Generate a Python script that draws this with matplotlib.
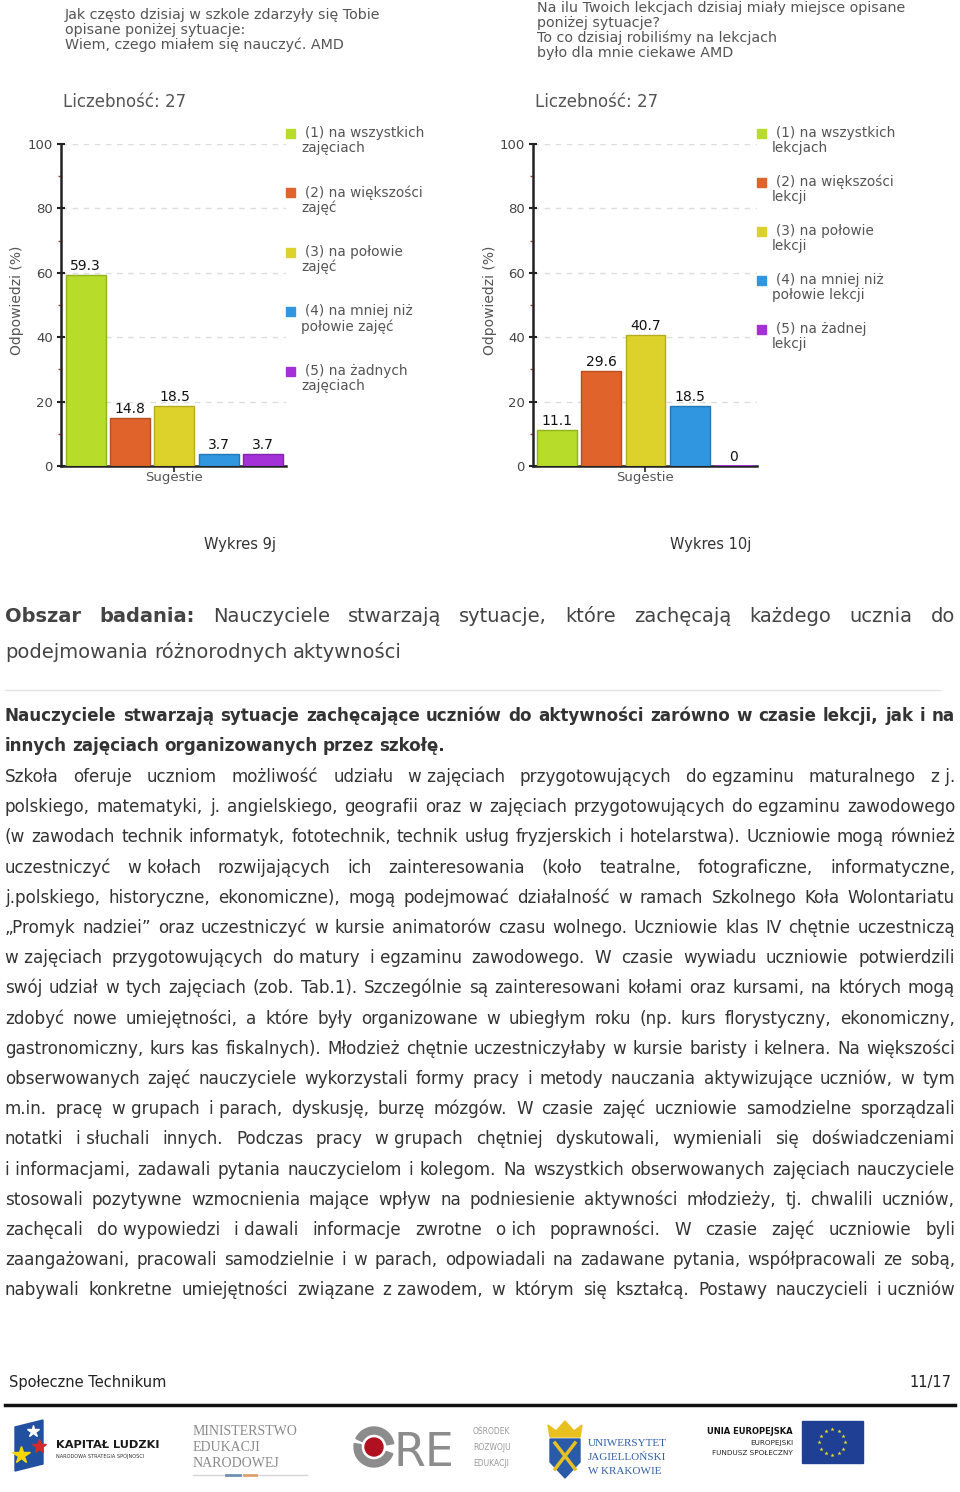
import numpy as np
import matplotlib
matplotlib.use("Agg")
import matplotlib.pyplot as plt
from matplotlib.patches import Rectangle, Polygon, Circle, Wedge

W, H = 960, 1492

# ---- chart data ----
values_9j = [59.3, 14.8, 18.5, 3.7, 3.7]
values_10j = [11.1, 29.6, 40.7, 18.5, 0]
legend_9j = ["(1) na wszystkich\nzajęciach", "(2) na większości\nzajęć",
             "(3) na połowie\nzajęć", "(4) na mniej niż\npołowie zajęć",
             "(5) na żadnych\nzajęciach"]
legend_10j = ["(1) na wszystkich\nlekcjach", "(2) na większości\nlekcji",
              "(3) na połowie\nlekcji", "(4) na mniej niż\npołowie lekcji",
              "(5) na żadnej\nlekcji"]
title_9j = ["Jak często dzisiaj w szkole zdarzyły się Tobie",
            "opisane poniżej sytuacje:",
            "Wiem, czego miałem się nauczyć. AMD"]
title_10j = ["Na ilu Twoich lekcjach dzisiaj miały miejsce opisane",
             "poniżej sytuacje?",
             "To co dzisiaj robiliśmy na lekcjach",
             "było dla mnie ciekawe AMD"]
count_label = "Liczebność: 27"
y_label = "Odpowiedzi (%)"
x_label = "Sugestie"
yticks = [0, 20, 40, 60, 80, 100]
bar_colors = ["#b7dc2a", "#e0632b", "#ddd22c", "#3096e0", "#a431d8"]
edge_colors = ["#93b01f", "#b84e20", "#b5ab20", "#2478b5", "#8424b0"]

# ---- page text ----
heading = [("Obszar badania:", "bold"),
           ("Nauczyciele stwarzają sytuacje, które zachęcają każdego ucznia do", "normal")]
heading2 = "podejmowania różnorodnych aktywności"
bold_lines = ["Nauczyciele stwarzają sytuacje zachęcające uczniów do aktywności zarówno w czasie lekcji, jak i na",
              "innych zajęciach organizowanych przez szkołę."]
body_lines = [
    "Szkoła oferuje uczniom możliwość udziału w~zajęciach przygotowujących do~egzaminu maturalnego z~j.",
    "polskiego, matematyki, j. angielskiego, geografii oraz w zajęciach przygotowujących do~egzaminu zawodowego",
    "(w zawodach technik informatyk, fototechnik, technik usług fryzjerskich i hotelarstwa). Uczniowie mogą również",
    "uczestniczyć w~kołach rozwijających ich zainteresowania (koło teatralne, fotograficzne, informatyczne,",
    "j.polskiego, historyczne, ekonomiczne), mogą podejmować działalność w ramach Szkolnego Koła Wolontariatu",
    "„Promyk nadziei” oraz uczestniczyć w kursie animatorów czasu wolnego. Uczniowie klas IV chętnie uczestniczą",
    "w~zajęciach przygotowujących do~matury i~egzaminu zawodowego. W czasie wywiadu uczniowie potwierdzili",
    "swój udział w tych zajęciach (zob. Tab.1). Szczególnie są zainteresowani kołami oraz kursami, na których mogą",
    "zdobyć nowe umiejętności, a które były organizowane w ubiegłym roku (np. kurs florystyczny, ekonomiczny,",
    "gastronomiczny, kurs kas fiskalnych). Młodzież chętnie uczestniczyłaby w kursie baristy i kelnera. Na większości",
    "obserwowanych zajęć nauczyciele wykorzystali formy pracy i metody nauczania aktywizujące uczniów, w tym",
    "m.in. pracę w~grupach i~parach, dyskusję, burzę mózgów. W czasie zajęć uczniowie samodzielne sporządzali",
    "notatki i~słuchali innych. Podczas pracy w~grupach chętniej dyskutowali, wymieniali się doświadczeniami",
    "i~informacjami, zadawali pytania nauczycielom i kolegom. Na wszystkich obserwowanych zajęciach nauczyciele",
    "stosowali pozytywne wzmocnienia mające wpływ na podniesienie aktywności młodzieży, tj. chwalili uczniów,",
    "zachęcali do~wypowiedzi i~dawali informacje zwrotne o~ich poprawności. W czasie zajęć uczniowie byli",
    "zaangażowani, pracowali samodzielnie i w parach, odpowiadali na zadawane pytania, współpracowali ze sobą,",
    "nabywali konkretne umiejętności związane z~zawodem, w którym się kształcą. Postawy nauczycieli i~uczniów",
]

fig = plt.figure(figsize=(W / 100, H / 100), dpi=100, facecolor="white")
page = fig.add_axes([0, 0, 1, 1])
page.set_xlim(0, W)
page.set_ylim(H, 0)
page.axis("off")
renderer = fig.canvas.get_renderer()


def px_rect(x0, y0, x1, y1):
    return [x0 / W, 1 - y1 / H, (x1 - x0) / W, (y1 - y0) / H]


def text_width(s, size, weight="normal"):
    t = page.text(0, 0, s, fontsize=size, fontweight=weight)
    w = t.get_window_extent(renderer).width
    t.remove()
    return w


def put_line(tokens, y, size, color="#333333", x0=5, x1=955, justify=True):
    arts = []
    for word, weight in tokens:
        t = page.text(0, y, word.replace("~", "\u00a0"), fontsize=size,
                      fontweight=weight, color=color, va="baseline", ha="left")
        arts.append((t, t.get_window_extent(renderer).width))
    total = sum(w for _, w in arts)
    if justify and len(arts) > 1:
        gap = (x1 - x0 - total) / (len(arts) - 1)
    else:
        gap = 0.318 * size * 100 / 72
    x = x0
    for t, w in arts:
        t.set_x(x)
        x += w + gap


def draw_chart(values, left, right, xlim, ylab_x, titles, title_x, title_y0,
               legend, leg_x, leg_y0, leg_step, count_x, caption, cap_x):
    ax = fig.add_axes(px_rect(left, 144, right, 466))
    xs = np.arange(len(values))
    for x, v, c, e in zip(xs, values, bar_colors, edge_colors):
        ax.bar(x, v, width=0.9, color=c, edgecolor=c if v == 0 else e,
               linewidth=2 if v == 0 else 1, zorder=3)
        ax.annotate(f"{v:g}", (x, v), xytext=(0, 1.5), textcoords="offset points",
                    ha="center", va="bottom", fontsize=10, color="#111111", zorder=4)
    ax.set_xlim(xlim)
    ax.set_ylim(0, 100)
    ax.set_yticks(yticks)
    ax.set_yticks([10, 30, 50, 70, 90], minor=True)
    ax.set_xticks([sum(xlim) / 2])
    ax.set_xticklabels([""])
    ax.yaxis.grid(True, color="#dddddd", linestyle=(0, (4, 4)), linewidth=1)
    ax.set_axisbelow(True)
    for s in ["top", "right"]:
        ax.spines[s].set_visible(False)
    for s in ["left", "bottom"]:
        ax.spines[s].set_linewidth(1.8)
        ax.spines[s].set_color("#222222")
    ax.tick_params(axis="y", which="major", direction="inout", length=6, width=1.5,
                   color="#222222", labelsize=9.5, labelcolor="#444444", pad=3)
    ax.tick_params(axis="y", which="minor", direction="out", length=2.5, width=1,
                   color="#cc3333")
    ax.tick_params(axis="x", direction="out", length=4, width=1.2, color="#222222")
    ax.set_facecolor("none")
    ax.set_ylabel(y_label, fontsize=10, color="#555555")
    ax.yaxis.label.set_va("center")
    ax.yaxis.set_label_coords((ylab_x - left) / (right - left), 0.515)
    ax.set_xlabel(x_label, fontsize=9.5, color="#555555")
    ax.xaxis.set_label_coords(0.5, -0.037)
    ax.xaxis.label.set_va("center")

    for i, line in enumerate(titles):
        page.text(title_x, title_y0 + 15 * i, line, fontsize=10.3, color="#555555", va="center")
    page.text(count_x, 102, count_label, fontsize=12, color="#555555", va="center")
    for i, lab in enumerate(legend):
        y = leg_y0 + leg_step * i
        page.add_patch(Rectangle((leg_x, y - 4.5), 9, 9, color=bar_colors[i]))
        first, second = lab.split("\n")
        page.text(leg_x + 19, y, first, fontsize=9.8, color="#555555", va="center")
        page.text(leg_x + 15, y + 15, second, fontsize=9.8, color="#555555", va="center")
    page.text(cap_x, 544, caption, fontsize=10.5, color="#333333", ha="center", va="center")


draw_chart(values_9j, 61, 286, (-0.56, 4.52), 17, title_9j, 65, 15,
           legend_9j, 286, 133, 59.5, 63, "Wykres 9j", 240)
draw_chart(values_10j, 533, 757, (-0.54, 4.52), 490, title_10j, 537, 8,
           legend_10j, 757, 133, 49, 535, "Wykres 10j", 711)

# ---- paragraph text ----
body_size = 10 * 940 / text_width(body_lines[2].replace("~", " "), 10)
head_size = 10 * 397 / text_width(heading2, 10)
bold_size = 10 * 443 / text_width(bold_lines[1], 10, "bold")

head_tokens = [(w, wt) for part, wt in heading for w in part.split(" ")]
put_line(head_tokens, 622, head_size, color="#444444")
put_line([(w, "normal") for w in heading2.split(" ")], 658, head_size,
         color="#444444", justify=False)
page.plot([5, 940], [690, 690], color="#e4e4e4", lw=1)
put_line([(w, "bold") for w in bold_lines[0].split(" ")], 721, bold_size)
put_line([(w, "bold") for w in bold_lines[1].split(" ")], 751, bold_size, justify=False)
for i, line in enumerate(body_lines):
    put_line([(w, "normal") for w in line.split(" ")], 782 + 30.2 * i, body_size)

# ---- footer ----
page.text(9, 1382, "Społeczne Technikum", fontsize=10.5, color="#222222", va="center")
page.text(951, 1382, "11/17", fontsize=10.5, color="#222222", va="center", ha="right")
page.plot([5, 955], [1405, 1405], color="#111111", lw=2.5)

# Kapitał Ludzki
page.add_patch(Polygon([(15, 1427), (43, 1420), (43, 1464), (15, 1471)], color="#2150a0"))
page.plot([33], [1431], marker="*", ms=9, color="white")
page.plot([39], [1446], marker="*", ms=10, color="#d22a2a")
page.plot([21], [1455], marker="*", ms=13, color="#f5d800")
page.text(56, 1448, "KAPITAŁ LUDZKI", fontsize=8.2, fontweight="bold", color="#1a1a1a")
page.text(56, 1458, "NARODOWA STRATEGIA SPÓJNOŚCI", fontsize=3.6, color="#333333")

# MEN
for i, s in enumerate(["MINISTERSTWO", "EDUKACJI", "NARODOWEJ"]):
    page.text(193, 1435 + 16 * i, s, family="Liberation Serif", fontsize=10,
              color="#8a8a8a", va="baseline")
page.plot([193, 307], [1475, 1475], color="#d6d6d6", lw=1)
page.plot([226, 240], [1475, 1475], color="#7090b0", lw=2)
page.plot([244, 256], [1475, 1475], color="#e0a070", lw=2)

# ORE
page.add_patch(Wedge((374, 1447), 20, 20, 190, width=7, color="#8c8c8c"))
page.add_patch(Wedge((374, 1447), 20, 205, 350, width=7, color="#8c8c8c"))
page.add_patch(Circle((374, 1447), 9, color="#b01020"))
page.text(394, 1466, "RE", fontsize=33, color="#8c8c8c", va="baseline")
for i, s in enumerate(["OŚRODEK", "ROZWOJU", "EDUKACJI"]):
    page.text(473, 1432 + 15.5 * i, s, fontsize=5.5, color="#9a9a9a", va="center")

# UJ
page.add_patch(Polygon([(550, 1437), (580, 1437), (582, 1425), (574, 1431), (565, 1421),
                        (556, 1431), (548, 1425)], color="#e8c020"))
page.add_patch(Polygon([(550, 1439), (580, 1439), (580, 1462), (565, 1478), (550, 1462)],
                       color="#2a5ba8"))
page.plot([555, 575], [1443, 1469], color="#e8c020", lw=2.5)
page.plot([575, 555], [1443, 1469], color="#e8c020", lw=2.5)
for i, s in enumerate(["UNIWERSYTET", "JAGIELLOŃSKI", "W KRAKOWIE"]):
    page.text(588, 1444 + 13.5 * i, s, family="Liberation Serif", fontsize=8,
              color="#3060a8", va="center")

# EU
page.text(793, 1432, "UNIA EUROPEJSKA", ha="right", va="center", fontsize=6,
          fontweight="bold", color="#111111")
page.text(793, 1443, "EUROPEJSKI", ha="right", va="center", fontsize=5.2, color="#222222")
page.text(793, 1453, "FUNDUSZ SPOŁECZNY", ha="right", va="center", fontsize=5.2, color="#222222")
page.add_patch(Rectangle((802, 1421), 61, 42, color="#1f3f95"))
ang = np.linspace(0, 2 * np.pi, 12, endpoint=False)
page.scatter(832 + 13 * np.cos(ang), 1442 + 13 * np.sin(ang), marker="*", s=10,
             color="#e8e020", linewidths=0)

fig.savefig("out.png", dpi=100, facecolor="white")
